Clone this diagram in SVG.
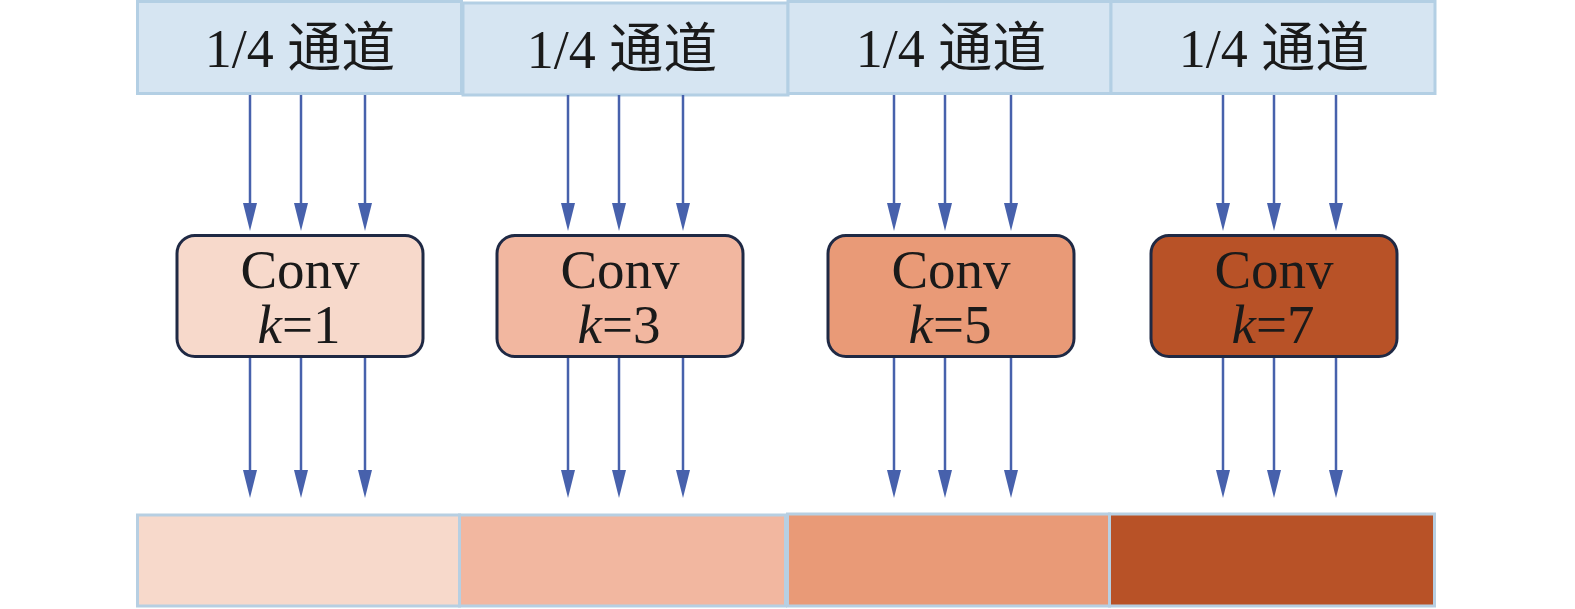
<svg xmlns="http://www.w3.org/2000/svg" width="1575" height="609" viewBox="0 0 1575 609">
<style>
.top{fill:#d6e5f2;stroke:#b3cfe4;stroke-width:3}
.bar{stroke:#b7cfe2;stroke-width:3}
.conv{stroke:#1f2944;stroke-width:3}
.t{font-family:"Liberation Serif","Noto Sans CJK SC",serif;fill:#1a1a1a;text-anchor:middle}
.tt{font-size:54px}
.ct{font-size:55px}
.arr{stroke:#4761ac;stroke-width:2.5;fill:none;marker-end:url(#ah)}
.c1{fill:#f7d9cb}.c2{fill:#f2b7a0}.c3{fill:#e99a77}.c4{fill:#b85227}
</style>
<defs>
<marker id="ah" markerUnits="userSpaceOnUse" markerWidth="28" markerHeight="14" refX="0" refY="7" orient="auto" viewBox="0 0 28 14">
<path d="M0,0 L28,7 L0,14 z" fill="#4761ac"/>
</marker>
</defs>
<g id="ch1"><rect class="top" x="137.5" y="1.5" width="324" height="92"/><text class="t tt" x="300" y="67">1/4 通道</text></g>
<g id="ch2"><rect class="top" x="463" y="3" width="325" height="92"/><text class="t tt" x="622" y="68">1/4 通道</text></g>
<g id="ch3"><rect class="top" x="788" y="1.5" width="323" height="92"/><text class="t tt" x="951" y="67">1/4 通道</text></g>
<g id="ch4"><rect class="top" x="1111" y="1.5" width="324" height="92"/><text class="t tt" x="1274" y="67">1/4 通道</text></g>
<g id="conv1"><rect class="conv c1" x="177" y="235.5" width="246" height="121" rx="18"/><text class="t ct" x="300" y="288">Conv</text><text class="t ct" x="299" y="343"><tspan font-style="italic">k</tspan>=1</text></g>
<g id="conv2"><rect class="conv c2" x="497" y="235.5" width="246" height="121" rx="18"/><text class="t ct" x="620" y="288">Conv</text><text class="t ct" x="619" y="343"><tspan font-style="italic">k</tspan>=3</text></g>
<g id="conv3"><rect class="conv c3" x="828" y="235.5" width="246" height="121" rx="18"/><text class="t ct" x="951" y="288">Conv</text><text class="t ct" x="950" y="343"><tspan font-style="italic">k</tspan>=5</text></g>
<g id="conv4"><rect class="conv c4" x="1151" y="235.5" width="246" height="121" rx="18"/><text class="t ct" x="1274" y="288">Conv</text><text class="t ct" x="1273" y="343"><tspan font-style="italic">k</tspan>=7</text></g>
<g id="out1"><rect class="bar c1" x="137.5" y="515" width="322" height="91"/></g>
<g id="out2"><rect class="bar c2" x="459.5" y="515" width="326" height="91"/></g>
<g id="out3"><rect class="bar c3" x="787.5" y="514" width="322" height="92"/></g>
<g id="out4"><rect class="bar c4" x="1109.5" y="514" width="325" height="92"/></g>
<g id="connectors">
<line class="arr" x1="250" y1="95" x2="250" y2="203"/>
<line class="arr" x1="301" y1="95" x2="301" y2="203"/>
<line class="arr" x1="365" y1="95" x2="365" y2="203"/>
<line class="arr" x1="568" y1="95" x2="568" y2="203"/>
<line class="arr" x1="619" y1="95" x2="619" y2="203"/>
<line class="arr" x1="683" y1="95" x2="683" y2="203"/>
<line class="arr" x1="894" y1="95" x2="894" y2="203"/>
<line class="arr" x1="945" y1="95" x2="945" y2="203"/>
<line class="arr" x1="1011" y1="95" x2="1011" y2="203"/>
<line class="arr" x1="1223" y1="95" x2="1223" y2="203"/>
<line class="arr" x1="1274" y1="95" x2="1274" y2="203"/>
<line class="arr" x1="1336" y1="95" x2="1336" y2="203"/>
<line class="arr" x1="250" y1="358" x2="250" y2="470"/>
<line class="arr" x1="301" y1="358" x2="301" y2="470"/>
<line class="arr" x1="365" y1="358" x2="365" y2="470"/>
<line class="arr" x1="568" y1="358" x2="568" y2="470"/>
<line class="arr" x1="619" y1="358" x2="619" y2="470"/>
<line class="arr" x1="683" y1="358" x2="683" y2="470"/>
<line class="arr" x1="894" y1="358" x2="894" y2="470"/>
<line class="arr" x1="945" y1="358" x2="945" y2="470"/>
<line class="arr" x1="1011" y1="358" x2="1011" y2="470"/>
<line class="arr" x1="1223" y1="358" x2="1223" y2="470"/>
<line class="arr" x1="1274" y1="358" x2="1274" y2="470"/>
<line class="arr" x1="1336" y1="358" x2="1336" y2="470"/>
</g>
</svg>
